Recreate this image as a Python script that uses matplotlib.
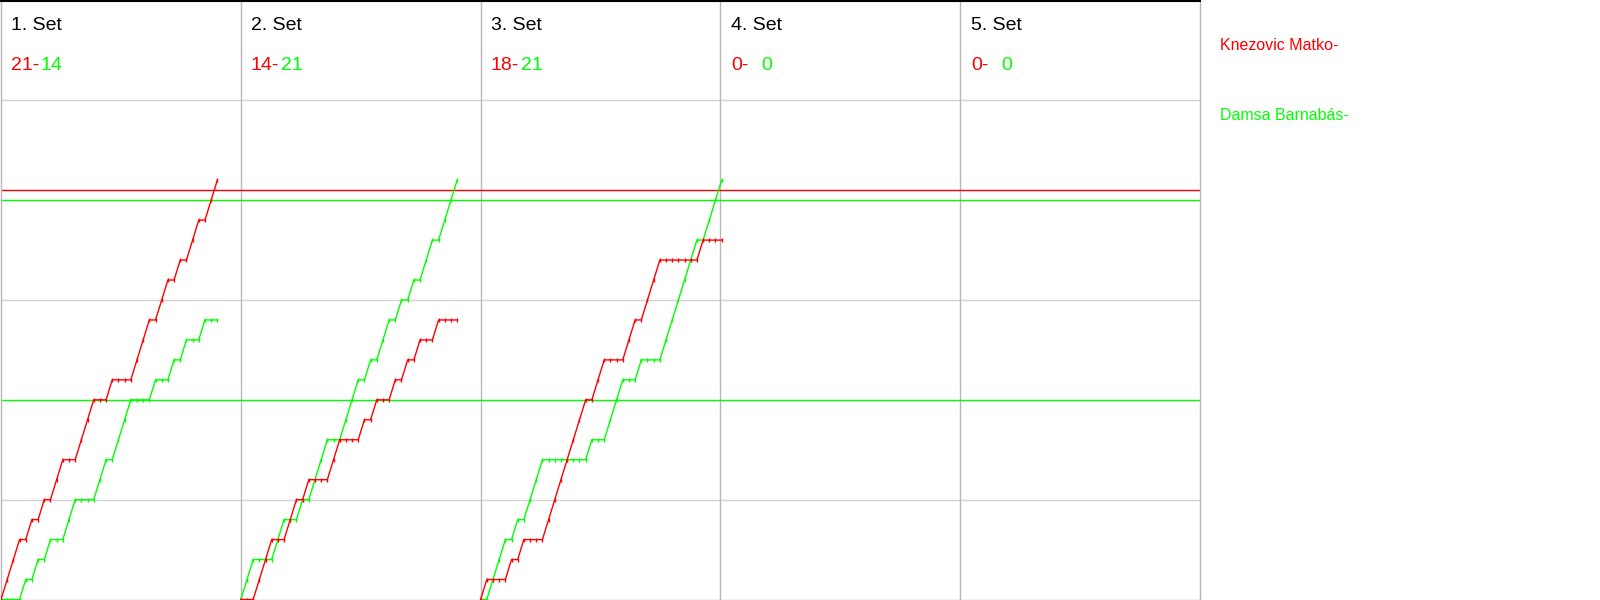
import numpy as np
import matplotlib
matplotlib.use("Agg")
import matplotlib.pyplot as plt

plt.rcParams['font.family'] = ['Liberation Sans', 'DejaVu Sans']

# rally winners per set, R = Knezovic Matko (red), G = Damsa Barnabás (green)
set_rallies = [
    "RRRGRGRGRRGGRRRGGRGGGRRRGRRGRGRRGRR",
    "GGRRRGGRRGRGGGRRGGGRGRGGRGRGRGGRGGG",
    "RGGGRGRGGGRRRRRRRGRRGGGRRGRRRGGGGGGRGGG",
]
set_titles = ["1. Set", "2. Set", "3. Set", "4. Set", "5. Set"]
red_scores = ["21-", "14-", "18-", "0-", "0-"]
green_scores = ["14", "21", "21", "0", "0"]
players = ["Knezovic Matko-", "Damsa Barnabás-"]
red_line = 20.5
green_lines = [10, 20]

RED = "#ff0000"
GREEN = "#00ff00"
W = 38.8  # rallies per panel

fig = plt.figure(figsize=(16, 6), dpi=100)
ax = fig.add_axes([1 / 1600, 0.5 / 600, 1199 / 1600, 599 / 600])
ax.set_xlim(0, 5 * W)
ax.set_ylim(0, 30)
ax.set_xticks([])
ax.set_yticks([])

for y in [5, 15, 25]:
    ax.axhline(y, color="#d3d3d3", lw=1, zorder=1)
for k in range(1, 5):
    ax.axvline(k * W, color="#b8b8b8", lw=1, zorder=1)

ax.axhline(red_line, color=RED, lw=1, zorder=2)
for y in green_lines:
    ax.axhline(y, color=GREEN, lw=1, zorder=2)

for k, s in enumerate(set_rallies):
    red = np.concatenate([[0], np.cumsum([c == "R" for c in s])])
    green = np.concatenate([[0], np.cumsum([c == "G" for c in s])])
    x = k * W + np.arange(len(s) + 1)
    ax.plot(x, green, color=GREEN, lw=1, marker="|", ms=3, mew=1, zorder=3)
    ax.plot(x, red, color=RED, lw=1, marker="|", ms=3, mew=1, zorder=4)

for side in ["left", "bottom", "right"]:
    ax.spines[side].set_color("#b8b8b8")
    ax.spines[side].set_linewidth(1)
ax.spines["top"].set_color("black")
ax.spines["top"].set_linewidth(1.5)

for k in range(5):
    x0 = 240 * k
    fig.text((x0 + 11) / 1600, 1 - 30 / 600, set_titles[k], fontsize=14, color="black", va="baseline")
    fig.text((x0 + 11) / 1600, 1 - 70 / 600, red_scores[k], fontsize=14, color=RED, va="baseline")
    fig.text((x0 + 41) / 1600, 1 - 70 / 600, green_scores[k], fontsize=14, color=GREEN, va="baseline")

fig.text(1220 / 1600, 1 - 50 / 600, players[0], fontsize=11.5, color=RED, va="baseline")
fig.text(1220 / 1600, 1 - 120 / 600, players[1], fontsize=11.5, color=GREEN, va="baseline")

fig.savefig("out.png", dpi=100, facecolor="white")
